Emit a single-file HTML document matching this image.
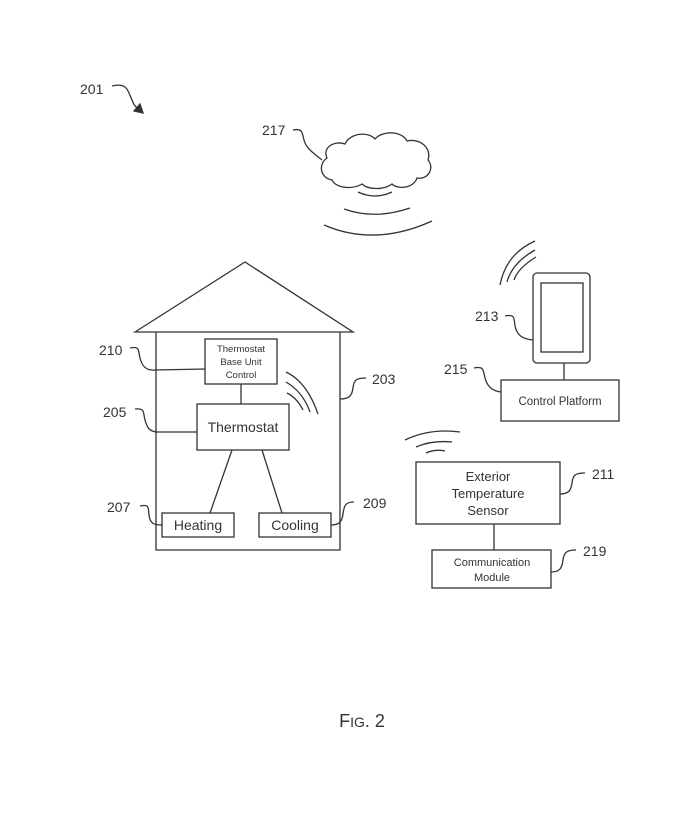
<!DOCTYPE html>
<html><head><style>body{margin:0;background:#fff}svg{display:block}text{font-family:"Liberation Sans",sans-serif;fill:#333}</style></head>
<body>
<svg width="700" height="814" viewBox="0 0 700 814" xmlns="http://www.w3.org/2000/svg">
<g fill="none" stroke="#333" stroke-width="1.3">
<!-- 201 arrow -->
<path d="M112 86 C128 82 128 92 132 100 C134 106 137 108 140 110"/>
<path d="M134 111 L143 113 L140 104 Z" fill="#333"/>
<!-- house -->
<path d="M135 332 L245 262 L353 332 Z"/>
<path d="M156 332 V550 H340 V332"/>
<rect x="205" y="339" width="72" height="45"/>
<rect x="197" y="404" width="92" height="46"/>
<rect x="162" y="513" width="72" height="24"/>
<rect x="259" y="513" width="72" height="24"/>
<line x1="241" y1="384" x2="241" y2="404"/>
<line x1="232" y1="450" x2="210" y2="513"/>
<line x1="262" y1="450" x2="282" y2="513"/>
<!-- waves house -->
<path d="M286 372 Q307 382 318 414"/>
<path d="M286 382 Q303 392 310 412"/>
<path d="M287 393 Q297 398 303 410"/>
<!-- leaders -->
<path d="M130 348 C140 346 138 350 140 358 C142 366 146 371 155 370 L205 369"/>
<path d="M135 409 C145 408 143 412 145 420 C147 428 150 432 158 432 L197 432"/>
<path d="M140 506 C150 504 148 508 149 515 C150 523 153 525 162 525"/>
<path d="M331 525 C340 525 342 521 343 514 C344 506 345 502 354 502"/>
<path d="M340 399 C350 399 352 395 353 388 C354 380 356 378 366 378"/>
<path d="M293 130 C303 128 302 133 304 140 C306 148 312 152 322 160"/>
<path d="M505 316 C515 314 514 318 515 326 C517 335 522 339 533 340"/>
<path d="M474 368 C484 366 483 370 485 378 C487 386 492 391 501 392"/>
<path d="M560 494 C569 494 571 490 572 483 C573 475 575 473 585 473"/>
<path d="M551 572 C560 572 562 568 563 560 C564 553 566 550 576 550"/>
<!-- cloud -->
<path d="M332 180 C320 178 318 164 327 158 C322 148 334 140 345 144 C350 133 368 131 375 139 C383 130 402 131 407 141 C420 138 432 148 428 160 C435 168 428 180 417 178 C414 188 398 190 392 184 C384 190 368 190 362 184 C352 190 336 188 332 180 Z"/>
<path d="M358 192 Q375 200 392 192"/>
<path d="M344 209 Q375 220 410 208"/>
<path d="M324 225 Q375 247 432 221"/>
<!-- phone -->
<rect x="533" y="273" width="57" height="90" rx="4"/>
<rect x="541" y="283" width="42" height="69"/>
<line x1="564" y1="363" x2="564" y2="380"/>
<rect x="501" y="380" width="118" height="41"/>
<path d="M500 285 Q506 254 535 241"/>
<path d="M507 282 Q512 263 535 250"/>
<path d="M514 280 Q518 268 536 257"/>
<!-- sensor -->
<path d="M405 440 Q430 428 460 432"/>
<path d="M416 447 Q432 440 452 442"/>
<path d="M426 453 Q435 449 445 451"/>
<rect x="416" y="462" width="144" height="62"/>
<line x1="494" y1="524" x2="494" y2="550"/>
<rect x="432" y="550" width="119" height="38"/>
</g>
<g font-size="14">
<text x="80" y="94">201</text>
<text x="262" y="135">217</text>
<text x="99" y="355">210</text>
<text x="103" y="417">205</text>
<text x="107" y="512">207</text>
<text x="363" y="508">209</text>
<text x="372" y="384">203</text>
<text x="475" y="321">213</text>
<text x="444" y="374">215</text>
<text x="592" y="479">211</text>
<text x="583" y="556">219</text>
</g>
<g text-anchor="middle">
<text x="241" y="352" font-size="9.5">Thermostat</text>
<text x="241" y="365" font-size="9.5">Base Unit</text>
<text x="241" y="378" font-size="9.5">Control</text>
<text x="243" y="432" font-size="14">Thermostat</text>
<text x="198" y="530" font-size="14">Heating</text>
<text x="295" y="530" font-size="14">Cooling</text>
<text x="560" y="405" font-size="11.5">Control Platform</text>
<text x="488" y="481" font-size="13">Exterior</text>
<text x="488" y="498" font-size="13">Temperature</text>
<text x="488" y="515" font-size="13">Sensor</text>
<text x="492" y="566" font-size="11">Communication</text>
<text x="492" y="581" font-size="11">Module</text>
<text x="362" y="727" font-size="18">F<tspan font-size="14">IG</tspan>. 2</text>
</g>
</svg>
</body></html>
